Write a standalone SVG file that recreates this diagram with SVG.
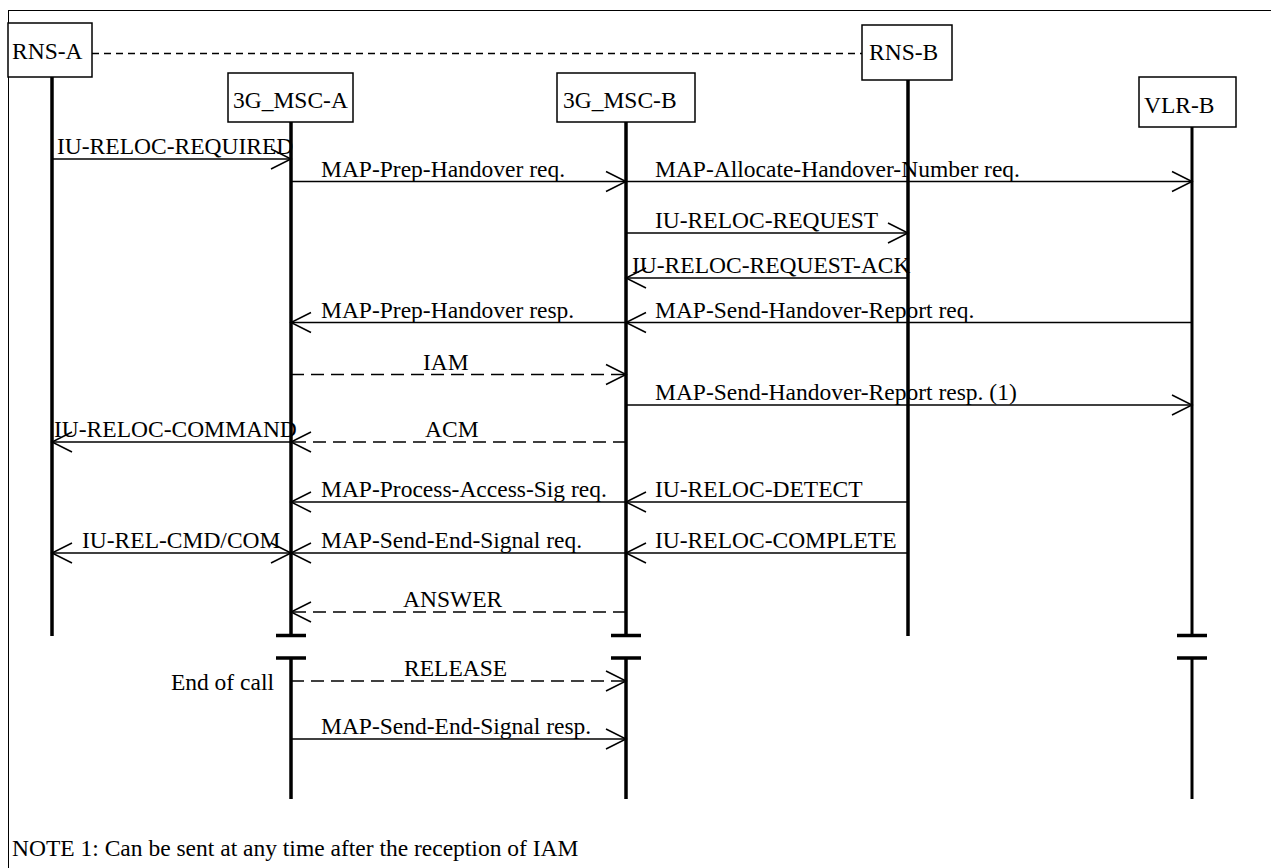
<svg xmlns="http://www.w3.org/2000/svg" width="1271" height="868" viewBox="0 0 1271 868">
<style>
text{font-family:"Liberation Serif","Times New Roman",serif;font-size:23.5px;fill:#000}
.box{fill:#fff;stroke:#000;stroke-width:1.5}
.life{stroke:#000;stroke-width:3.5;fill:none}
.bar{stroke:#000;stroke-width:3.5}
.msg{stroke:#000;stroke-width:1.5;fill:none;marker-end:url(#ah)}
.dash{stroke-dasharray:13 7}
.frame{fill:none;stroke:#000;stroke-width:1}
</style>
<defs>
<marker id="ah" markerUnits="userSpaceOnUse" markerWidth="24" markerHeight="24" refX="20" refY="10" orient="auto-start-reverse" overflow="visible">
<path d="M0,0 L20,10 L0,20" fill="none" stroke="#000" stroke-width="1.5" stroke-dasharray="none"/>
</marker>
</defs>
<rect x="0" y="0" width="1271" height="868" fill="#fff"/>
<rect class="frame" x="8.5" y="10.5" width="1300" height="900"/>
<line x1="92" y1="53.5" x2="862" y2="53.5" stroke="#000" stroke-width="1.5" stroke-dasharray="7 5"/>

<g id="lifelines">
<line class="life" x1="52" y1="77" x2="52" y2="636"/>
<line class="life" x1="291" y1="122" x2="291" y2="636"/>
<line class="life" x1="291" y1="657" x2="291" y2="799"/>
<line class="life" x1="626" y1="122" x2="626" y2="636"/>
<line class="life" x1="626" y1="657" x2="626" y2="799"/>
<line class="life" x1="908" y1="80" x2="908" y2="636"/>
<line class="life" style="stroke-width:3" x1="1192" y1="127" x2="1192" y2="636"/>
<line class="life" style="stroke-width:3" x1="1192" y1="657" x2="1192" y2="799"/>
<line class="bar" x1="276" y1="635.5" x2="306" y2="635.5"/>
<line class="bar" x1="276" y1="658" x2="306" y2="658"/>
<line class="bar" x1="611" y1="635.5" x2="641" y2="635.5"/>
<line class="bar" x1="611" y1="658" x2="641" y2="658"/>
<line class="bar" x1="1177" y1="635.5" x2="1207" y2="635.5"/>
<line class="bar" x1="1177" y1="658" x2="1207" y2="658"/>
</g>

<g id="rns-a"><rect class="box" x="8" y="23" width="84" height="54"/><text x="12" y="59">RNS-A</text></g>
<g id="msc-a"><rect class="box" x="228" y="73" width="125" height="49"/><text x="233" y="108">3G_MSC-A</text></g>
<g id="msc-b"><rect class="box" x="557" y="73" width="138" height="49"/><text x="563" y="108">3G_MSC-B</text></g>
<g id="rns-b"><rect class="box" x="862" y="25" width="90" height="55"/><text x="869" y="60">RNS-B</text></g>
<g id="vlr-b"><rect class="box" x="1139" y="77" width="97" height="50"/><text x="1144" y="113">VLR-B</text></g>

<g id="connectors">
<line class="msg" x1="52" y1="159" x2="291" y2="159"/>
<line class="msg" x1="291" y1="181.5" x2="626" y2="181.5"/>
<line class="msg" x1="626" y1="181.5" x2="1192" y2="181.5"/>
<line class="msg" x1="626" y1="233" x2="908" y2="233"/>
<line class="msg" x1="908" y1="278" x2="626" y2="278"/>
<line class="msg" x1="626" y1="322.5" x2="291" y2="322.5"/>
<line class="msg" x1="1192" y1="322.5" x2="626" y2="322.5"/>
<line class="msg dash" x1="291" y1="374.5" x2="626" y2="374.5"/>
<line class="msg" x1="626" y1="405" x2="1192" y2="405"/>
<line class="msg dash" x1="626" y1="442" x2="291" y2="442"/>
<line class="msg" x1="291" y1="442" x2="52" y2="442"/>
<line class="msg" x1="626" y1="502" x2="291" y2="502"/>
<line class="msg" x1="908" y1="502" x2="626" y2="502"/>
<line class="msg" style="marker-start:url(#ah)" x1="52" y1="553" x2="291" y2="553"/>
<line class="msg" x1="626" y1="553" x2="291" y2="553"/>
<line class="msg" x1="908" y1="553" x2="626" y2="553"/>
<line class="msg dash" x1="626" y1="612" x2="291" y2="612"/>
<line class="msg dash" x1="291" y1="681" x2="626" y2="681"/>
<line class="msg" x1="291" y1="739" x2="626" y2="739"/>
</g>

<g id="labels">
<text x="57" y="154">IU-RELOC-REQUIRED</text>
<text x="321" y="176.5">MAP-Prep-Handover req.</text>
<text x="655" y="176.5">MAP-Allocate-Handover-Number req.</text>
<text x="655" y="228">IU-RELOC-REQUEST</text>
<text x="632" y="273">IU-RELOC-REQUEST-ACK</text>
<text x="321" y="317.5">MAP-Prep-Handover resp.</text>
<text x="655" y="317.5">MAP-Send-Handover-Report req.</text>
<text x="423" y="369.5">IAM</text>
<text x="655" y="400">MAP-Send-Handover-Report resp. (1)</text>
<text x="425" y="437">ACM</text>
<text x="54" y="437">IU-RELOC-COMMAND</text>
<text x="321" y="497">MAP-Process-Access-Sig req.</text>
<text x="655" y="497">IU-RELOC-DETECT</text>
<text x="82" y="548">IU-REL-CMD/COM</text>
<text x="321" y="548">MAP-Send-End-Signal req.</text>
<text x="655" y="548">IU-RELOC-COMPLETE</text>
<text x="403" y="607">ANSWER</text>
<text x="404" y="676">RELEASE</text>
<text x="274" y="690" text-anchor="end">End of call</text>
<text x="321" y="734">MAP-Send-End-Signal resp.</text>
<text x="12" y="856">NOTE 1: Can be sent at any time after the reception of IAM</text>
</g>
</svg>
